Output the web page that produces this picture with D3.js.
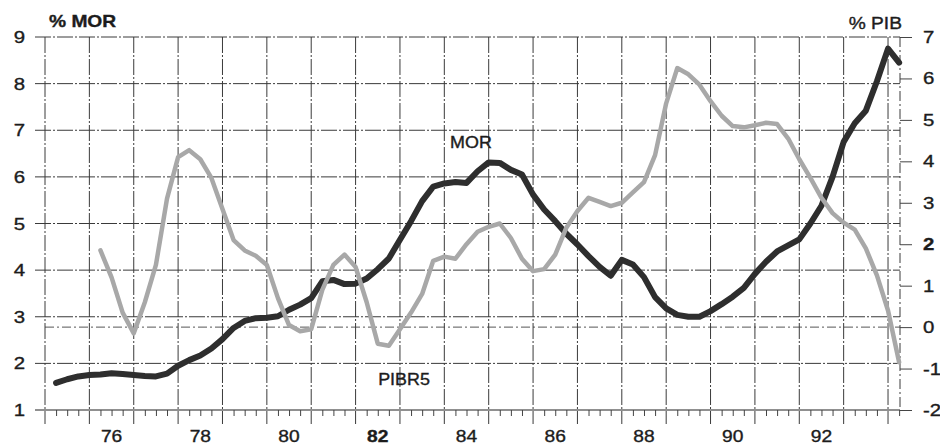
<!DOCTYPE html>
<html>
<head>
<meta charset="utf-8">
<script src="https://cdn.jsdelivr.net/npm/d3@7/dist/d3.min.js"></script>
<style>
  html, body { margin: 0; padding: 0; background: #fff; }
  svg { display: block; }
  text { font-family: "Liberation Sans", Arial, Helvetica, sans-serif; fill: #1c1c1c; stroke: #1c1c1c; stroke-width: 0.35px; }
</style>
</head>
<body>
<svg id="chart" width="940" height="447"></svg>
<script>
// ---- data ----
const morStart = 1975.25;      // first quarter of MOR series
const morValues = [
  1.58, 1.66, 1.72,
  1.75, 1.76, 1.79, 1.77,
  1.75, 1.73, 1.72, 1.78,
  1.95, 2.07, 2.17, 2.32,
  2.52, 2.76, 2.91, 2.97,
  2.98, 3.01, 3.15, 3.26,
  3.40, 3.76, 3.79, 3.70,
  3.71, 3.82, 4.02, 4.25,
  4.65, 5.05, 5.48, 5.79,
  5.86, 5.89, 5.87, 6.12,
  6.31, 6.30, 6.15, 6.05,
  5.62, 5.30, 5.05, 4.78,
  4.55, 4.30, 4.07, 3.88,
  4.22, 4.12, 3.85, 3.42,
  3.18, 3.04, 3.00, 3.00,
  3.12, 3.27, 3.43, 3.62,
  3.92, 4.18, 4.40, 4.53,
  4.66, 5.00, 5.38, 6.00,
  6.75, 7.15, 7.42, 8.05,
  8.75, 8.45
];
const pibStart = 1976.25;      // first quarter of PIBR5 series
const pibValues = [
  1.85, 1.20, 0.35,
  -0.15, 0.60, 1.50, 3.10,
  4.10, 4.27, 4.05, 3.60,
  2.85, 2.10, 1.85, 1.72,
  1.50, 0.70, 0.05, -0.10,
  -0.05, 0.90, 1.50, 1.75,
  1.45, 0.60, -0.40, -0.45,
  -0.05, 0.35, 0.80, 1.60,
  1.70, 1.65, 2.00, 2.30,
  2.42, 2.50, 2.15, 1.65,
  1.35, 1.40, 1.75, 2.40,
  2.80, 3.12, 3.02, 2.92,
  3.00, 3.25, 3.50, 4.15,
  5.40, 6.25, 6.10, 5.85,
  5.45, 5.10, 4.85, 4.82,
  4.87, 4.93, 4.90, 4.55,
  4.05, 3.60, 3.12, 2.75,
  2.52, 2.35, 1.90, 1.25,
  0.40, -0.85
];
const leftTicks = [1, 2, 3, 4, 5, 6, 7, 8, 9];
const rightTicks = [-2, -1, 0, 1, 2, 3, 4, 5, 6, 7];
const yearLines = d3.range(1975, 1995);
const yearLabels = ["76", "78", "80", "82", "84", "86", "88", "90", "92"];
const yearLabelPos = [1976.5, 1978.5, 1980.5, 1982.5, 1984.5, 1986.5, 1988.5, 1990.5, 1992.5];
const leftTitle = "% MOR";
const rightTitle = "% PIB";

const mor = morValues.map((v, i) => ({ t: morStart + i * 0.25, v }));
const pib = pibValues.map((v, i) => ({ t: pibStart + i * 0.25, v }));

// ---- scales ----
const x = d3.scaleLinear().domain([1975, 1994.27]).range([45, 900]);
const yL = d3.scaleLinear().domain([1, 9]).range([410, 37]);
const yR = d3.scaleLinear().domain([-2, 7]).range([410, 37]);

const svg = d3.select("#chart");
const SX = 1.2; // horizontal stretch of the scanned lettering

// ---- grid ----
const grid = svg.append("g").attr("stroke", "#3a3a3a").attr("stroke-width", 1).attr("fill", "none");
grid.selectAll("line.h").data(leftTicks.filter(d => d > 1)).join("line")
  .attr("x1", 35).attr("x2", 900)
  .attr("y1", d => yL(d)).attr("y2", d => yL(d))
  .attr("stroke-dasharray", "16,2,2,2");
// extra dash-dot line at PIB zero
grid.append("line")
  .attr("x1", 45).attr("x2", 900).attr("y1", yR(0)).attr("y2", yR(0))
  .attr("stroke-dasharray", "9,3,2,3").attr("stroke", "#555");
grid.selectAll("line.v").data(yearLines).join("line")
  .attr("x1", d => x(d)).attr("x2", d => x(d))
  .attr("y1", yL(9)).attr("y2", 424)
  .attr("stroke-dasharray", "16,2,2,2");
// right border
grid.append("line").attr("x1", 900).attr("x2", 900).attr("y1", yL(9)).attr("y2", 410)
  .attr("stroke-dasharray", "10,3,2,3");

// ---- bottom axis ----
const bottom = svg.append("g").attr("transform", `translate(0,${yL(1)})`);
const xAxis = d3.axisBottom(x)
  .tickValues(d3.range(1975.25, 1994.26, 0.25).filter(t => Math.abs(t - Math.round(t)) > 0.01))
  .tickSize(6).tickFormat("");
bottom.call(xAxis);
bottom.select(".domain").attr("d", "M35,0H900").attr("stroke", "#222").attr("stroke-width", 1.2);
bottom.selectAll(".tick line").attr("stroke", "#444");

// year labels
svg.append("g").selectAll("text").data(yearLabels).join("text")
  .attr("transform", (d, i) => `translate(${x(yearLabelPos[i])},442) scale(${SX},1)`)
  .attr("text-anchor", "middle").attr("font-size", 16)
  .attr("font-weight", d => d === "82" ? "bold" : "normal")
  .text(d => d);

// ---- left axis labels ----
svg.append("g").selectAll("text").data(leftTicks).join("text")
  .attr("transform", d => `translate(25,${yL(d) + 6}) scale(${SX},1)`)
  .attr("text-anchor", "end").attr("font-size", 17)
  .text(d => d);

// ---- right axis ----
const right = svg.append("g").attr("transform", "translate(900,0)");
const yAxisR = d3.axisRight(yR).tickValues(rightTicks).tickSize(12).tickFormat("");
right.call(yAxisR);
right.select(".domain").remove();
right.selectAll(".tick line").attr("stroke", "#444");
svg.append("g").selectAll("text").data(rightTicks).join("text")
  .attr("transform", d => `translate(923,${yR(d) + 6}) scale(${SX},1)`)
  .attr("text-anchor", "start").attr("font-size", 17)
  .attr("font-weight", d => d === 2 ? "bold" : "normal")
  .text(d => d);

// axis titles
svg.append("text").attr("transform", `translate(49,27) scale(${SX},1)`)
  .attr("font-size", 16).attr("font-weight", "bold").text(leftTitle);
svg.append("text").attr("transform", `translate(902,29) scale(${SX},1)`)
  .attr("text-anchor", "end").attr("font-size", 16).text(rightTitle);

// ---- lines ----
const lineL = d3.line().x(d => x(d.t)).y(d => yL(d.v));
const lineR = d3.line().x(d => x(d.t)).y(d => yR(d.v));

svg.append("path").datum(mor)
  .attr("d", lineL).attr("fill", "none")
  .attr("stroke", "#2e2e2e").attr("stroke-width", 6)
  .attr("stroke-linejoin", "round").attr("stroke-linecap", "round");

svg.append("path").datum(pib)
  .attr("d", lineR).attr("fill", "none")
  .attr("stroke", "#a8a8a8").attr("stroke-width", 4.5)
  .attr("stroke-linejoin", "round").attr("stroke-linecap", "round");

// series labels
svg.append("text").attr("transform", `translate(471,148) scale(1.12,1)`)
  .attr("text-anchor", "middle").attr("font-size", 16).text("MOR");
svg.append("text").attr("transform", `translate(404,385) scale(1.12,1)`)
  .attr("text-anchor", "middle").attr("font-size", 16).text("PIBR5");
</script>
</body>
</html>
